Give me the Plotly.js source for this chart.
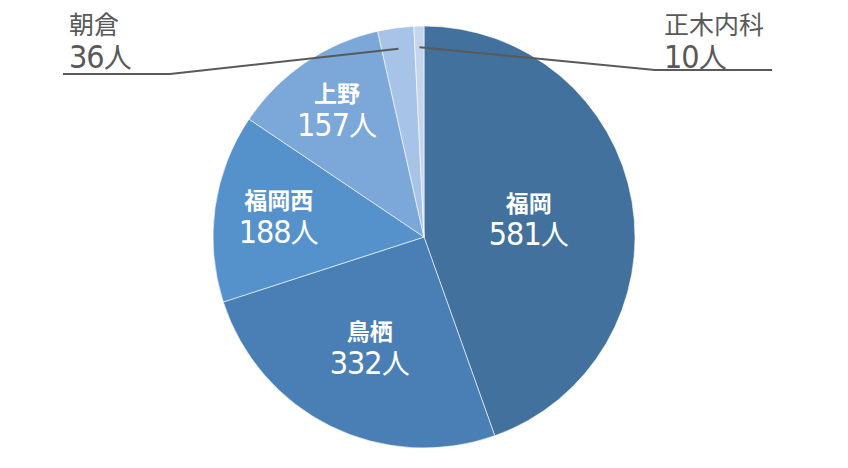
<!DOCTYPE html>
<html>
<head>
<meta charset="utf-8">
<script src="https://cdn.plot.ly/plotly-3.0.1.min.js"></script>
<style>
  html, body { margin: 0; padding: 0; background: #ffffff; }
  #chart { width: 848px; height: 468px; }
</style>
</head>
<body>
<div id="chart"></div>
<script>
const LABELS = ["福岡", "鳥栖", "福岡西", "上野", "朝倉", "正木内科"];
const VALUES = [581, 332, 188, 157, 36, 10];
const UNIT = "人";
const OUTSIDE = ["朝倉", "正木内科"];

const COLORS = ["#41719c", "#4a7fb5", "#5592cb", "#7ba7d9", "#a7c3e7", "#c5d5ee"];
const CJK = "'Noto Sans CJK JP', 'Noto Sans', sans-serif";
const NUM = "'Liberation Sans Narrow', 'DejaVu Sans Condensed', 'Roboto Condensed', 'Liberation Sans', sans-serif";
const GREY = "#595959";

const W = 848, H = 468;
const TOP = 26, BOTTOM = 20;
const R = (H - TOP - BOTTOM) / 2;
const CX = W / 2, CY = TOP + R;

function px(x) { return x / W; }
function py(y) { return (H - BOTTOM - y) / (H - TOP - BOTTOM); }

function labelHtml(name, value, weight, nameSize) {
  return `<span style="font-family:${CJK};font-size:${nameSize}px;font-weight:${weight}">${name}</span><br>` +
    `<span style="font-family:${NUM};font-stretch:condensed;letter-spacing:-1px;font-size:32px">${value}</span>` +
    `<span style="font-family:${CJK};font-size:28px;letter-spacing:0">${UNIT}</span>`;
}

// where a slice sits, for the leader lines
const total = VALUES.reduce((a, b) => a + b, 0);
function midPoint(i, frac) {
  const before = VALUES.slice(0, i).reduce((a, b) => a + b, 0);
  const ang = (before + VALUES[i] / 2) / total * 2 * Math.PI;
  return [CX + Math.sin(ang) * R * frac, CY - Math.cos(ang) * R * frac];
}

const inside = LABELS.map((l) => !OUTSIDE.includes(l));

const trace = {
  type: "pie",
  labels: LABELS,
  values: VALUES,
  sort: false,
  direction: "clockwise",
  rotation: 0,
  marker: { colors: COLORS, line: { color: "#ffffff", width: 0.6 } },
  text: LABELS.map((l, i) => inside[i] ? labelHtml(l, VALUES[i], "bold", 23) : ""),
  textinfo: "text",
  textposition: inside.map((v) => v ? "inside" : "none"),
  insidetextorientation: "horizontal",
  textfont: { color: "#ffffff", family: CJK, size: 26 },
  hoverinfo: "label+value",
  domain: { x: [0, 1], y: [0, 1] },
};

// outside labels with elbow leader lines
const elbows = {
  "朝倉": { knee: [170, 74], end: [63, 74], text: [67, 41] },
  "正木内科": { knee: [655, 70], end: [772, 70], text: [662, 40] },
};

const shapes = [];
const annotations = [];
OUTSIDE.forEach((name) => {
  const i = LABELS.indexOf(name);
  const e = elbows[name];
  const p = midPoint(i, 0.9);
  const path = `M ${px(p[0])} ${py(p[1])} L ${px(e.knee[0])} ${py(e.knee[1])} L ${px(e.end[0])} ${py(e.end[1])}`;
  shapes.push({
    type: "path", xref: "paper", yref: "paper", path,
    line: { color: GREY, width: 2 },
  });
  annotations.push({
    xref: "paper", yref: "paper",
    x: px(e.text[0]), y: py(e.text[1]),
    xanchor: "left", yanchor: "middle", align: "left",
    showarrow: false,
    text: labelHtml(name, VALUES[i], "normal", 25),
    font: { color: GREY, family: CJK, size: 26 },
  });
});

const layout = {
  width: W,
  height: H,
  margin: { l: 0, r: 0, t: TOP, b: BOTTOM },
  paper_bgcolor: "#ffffff",
  showlegend: false,
  shapes,
  annotations,
};

Plotly.newPlot("chart", [trace], layout, { displayModeBar: false, staticPlot: true });
</script>
</body>
</html>
